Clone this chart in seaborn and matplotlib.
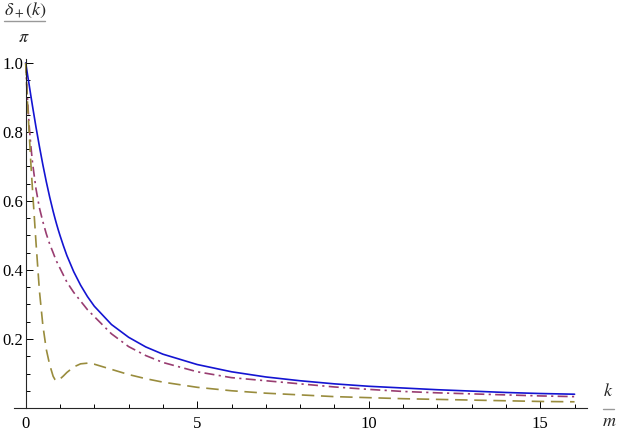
import numpy as np
import pandas as pd
import seaborn as sns
import matplotlib.pyplot as plt
from matplotlib.lines import Line2D
from matplotlib.ticker import MultipleLocator, FormatStrFormatter

# values
k = [0, 0.05, 0.1, 0.15, 0.2, 0.3, 0.4, 0.5, 0.6, 0.7, 0.8, 0.85, 0.9, 0.95,
     1.0, 1.1, 1.2, 1.4, 1.6, 1.8, 2.0, 2.5, 3, 3.5, 4, 5, 6, 7, 8, 9, 10,
     11, 12, 13, 14, 15, 16]

solid = [1.0, 0.968, 0.937, 0.905, 0.874, 0.814, 0.758, 0.705, 0.656, 0.611,
         0.570, 0.551, 0.533, 0.516, 0.5, 0.470, 0.442, 0.395, 0.356, 0.323,
         0.295, 0.242, 0.205, 0.177, 0.156, 0.126, 0.105, 0.090, 0.079,
         0.070, 0.063, 0.058, 0.053, 0.049, 0.045, 0.042, 0.040]

dashdot = [1.0, 0.90, 0.82, 0.76, 0.71, 0.635, 0.58, 0.54, 0.505, 0.475,
           0.45, 0.437, 0.425, 0.415, 0.405, 0.385, 0.365, 0.335, 0.31,
           0.285, 0.265, 0.215, 0.178, 0.152, 0.132, 0.105, 0.088, 0.079,
           0.070, 0.061, 0.054, 0.048, 0.044, 0.041, 0.038, 0.035, 0.033]

dashed = [1.0, 0.89, 0.80, 0.71, 0.63, 0.48, 0.34, 0.24, 0.17, 0.125,
          0.092, 0.083, 0.079, 0.080, 0.084, 0.093, 0.103, 0.119, 0.128,
          0.130, 0.127, 0.112, 0.097, 0.085, 0.075, 0.060, 0.050, 0.043,
          0.038, 0.033, 0.030, 0.027, 0.025, 0.023, 0.021, 0.019, 0.018]

x_ticks = [0, 5, 10, 15]
y_ticks = [0.2, 0.4, 0.6, 0.8, 1.0]

#%%

df = pd.DataFrame({"k": k, "solid": solid, "dashdot": dashdot, "dashed": dashed})
df = df.melt(id_vars="k", var_name="curve", value_name="delta")

colors = {"solid": "#1414d2", "dashdot": "#993d71", "dashed": "#998c3d"}
dash_map = {"solid": "", "dashdot": (6, 2.6, 1.3, 2.6), "dashed": (7.5, 4)}

sns.set_style("ticks")
plt.rcParams["font.family"] = ["Liberation Serif", "DejaVu Serif"]
plt.rcParams["mathtext.fontset"] = "stix"

fig = plt.figure(figsize=(6.18, 4.33), dpi=100)
ax = fig.add_axes([0.0227, 0.0577, 0.927, 0.805])

sns.lineplot(data=df, x="k", y="delta", hue="curve", style="curve",
             palette=colors, dashes=dash_map, estimator=None,
             linewidth=1.2, legend=False, ax=ax)

ax.set_xlim(-0.34, 16.36)
ax.set_ylim(0, 1.01)
ax.spines["left"].set_position(("data", 0))
ax.spines["top"].set_visible(False)
ax.spines["right"].set_visible(False)
for s in ("left", "bottom"):
    ax.spines[s].set_linewidth(0.8)

ax.set_xticks(x_ticks)
ax.set_yticks(y_ticks)
ax.xaxis.set_minor_locator(MultipleLocator(1))
ax.yaxis.set_minor_locator(MultipleLocator(0.05))
ax.yaxis.set_major_formatter(FormatStrFormatter("%.1f"))
ax.tick_params(which="both", direction="in", width=0.7, labelsize=12,
               colors="black")
ax.tick_params(which="major", length=5)
ax.tick_params(which="minor", length=3.2)
ax.tick_params(axis="x", pad=6)
ax.tick_params(axis="y", pad=2)
ax.set_xlabel("")
ax.set_ylabel("")

# axis labels drawn as fractions, Mathematica style
W, H = 618.0, 433.0
fig.text(25 / W, 1 - 10 / H, r"$\delta_+(k)$", ha="center", va="center", fontsize=13)
fig.add_artist(Line2D([4 / W, 45 / W], [1 - 21 / H] * 2, color="#999999", lw=1))
fig.text(24 / W, 1 - 37 / H, r"$\pi$", ha="center", va="center", fontsize=13)

fig.text(608 / W, 1 - 391 / H, r"$k$", ha="center", va="center", fontsize=13)
fig.add_artist(Line2D([603 / W, 614 / W], [1 - 409 / H] * 2, color="#999999", lw=1))
fig.text(609 / W, 1 - 421 / H, r"$m$", ha="center", va="center", fontsize=13)

fig.savefig("out.png", dpi=100)
